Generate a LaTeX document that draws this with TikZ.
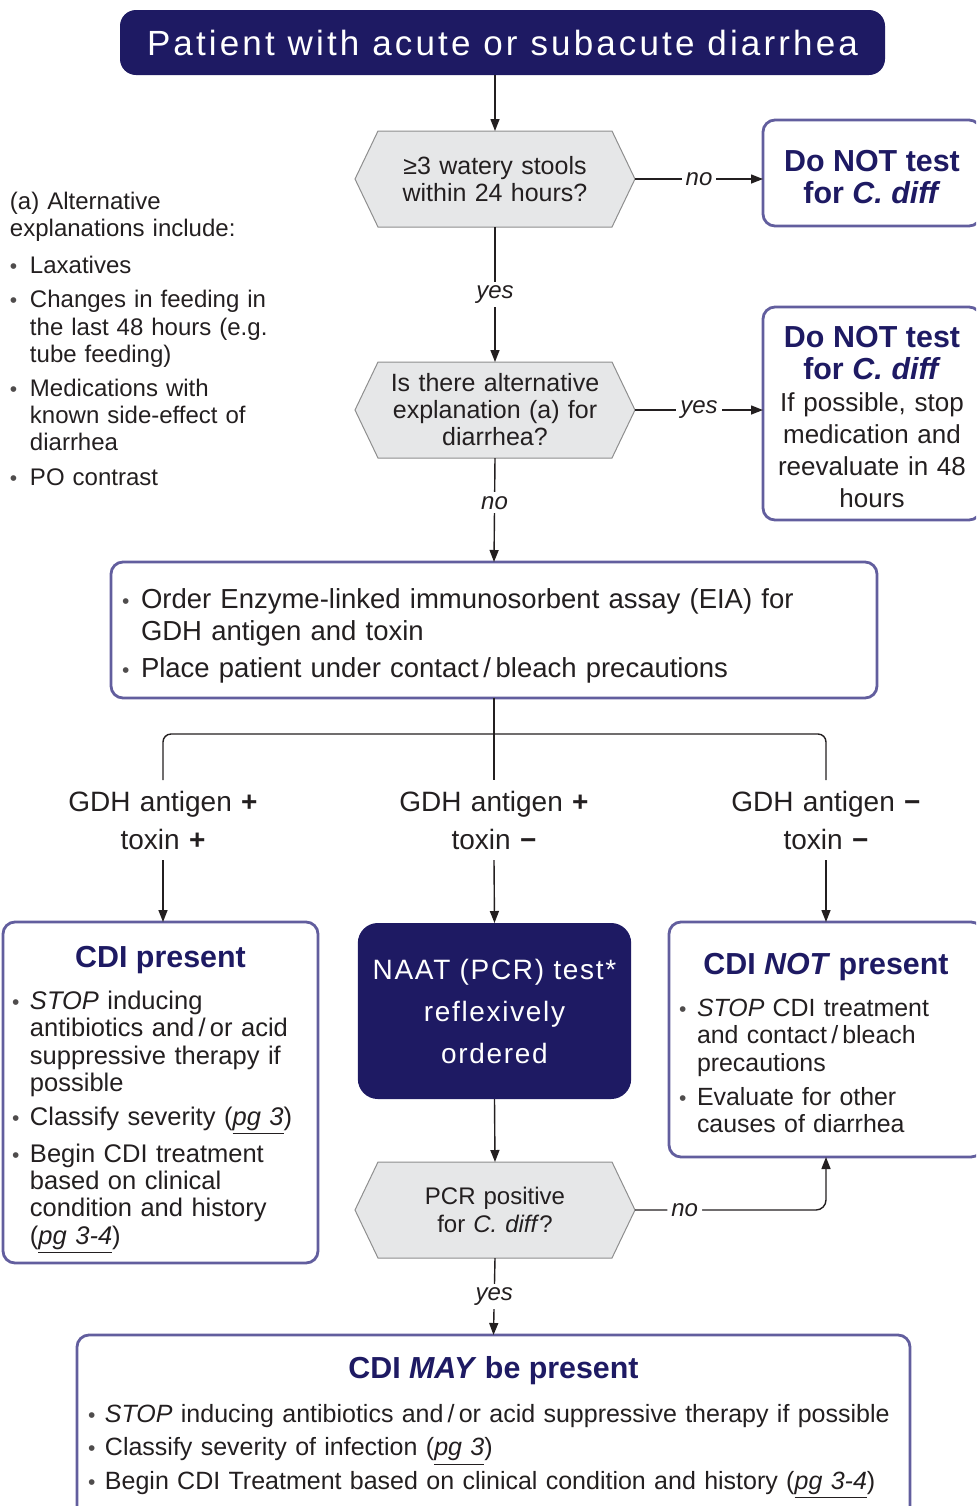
\documentclass[tikz,border=0pt]{standalone}
\usepackage{fontspec}
\setmainfont{Liberation Sans}
\newfontfamily\spacedfont[LetterSpace=9]{Liberation Sans}
\newfontfamily\naatfont[LetterSpace=6]{Liberation Sans}
\usetikzlibrary{arrows.meta,positioning,backgrounds}

\definecolor{navy}{HTML}{1E1A63}
\definecolor{boxedge}{HTML}{625E9E}
\definecolor{hexfill}{HTML}{E6E7E8}
\definecolor{hexedge}{HTML}{8E8E8E}
\definecolor{ink}{HTML}{231F20}

\setlength{\parindent}{0pt}
\newlength\bhang
\setlength\bhang{9pt}
\newcommand{\bitem}[1]{\par\noindent\hangindent=\bhang\hangafter=1%
  \makebox[\bhang][l]{\fontsize{10.5}{10.5}\selectfont\textcolor{ink!80}{\textbullet}}#1}
\newcommand{\pg}[1]{\underline{\textit{pg #1}}}
\newcommand{\headfont}{\fontsize{15.2}{16}\selectfont\bfseries\color{navy}}
% optional argument: height of a strut that lowers the text block
\newcommand{\boxtitle}[2][0pt]{{\centering\headfont\rule{0pt}{#1}#2\par}}
\newcommand{\hexoutline}[1]{%
  \begin{scope}[on background layer]
    \draw[hexedge, fill=hexfill, line width=0.5pt] (#1.west) -- ([xshift=11.5pt]#1.north west)
      -- ([xshift=-11.5pt]#1.north east) -- (#1.east) -- ([xshift=-11.5pt]#1.south east)
      -- ([xshift=11.5pt]#1.south west) -- cycle;
  \end{scope}}

\tikzset{
  every node/.style={outer sep=0pt},
  link/.style={draw=ink, line width=0.7pt},
  arrowlink/.style={link, -{Triangle[length=6pt,width=4.5pt]}},
  edgelabel/.style={fill=white, inner sep=2pt, text=ink, font=\fontsize{12}{12}\selectfont\itshape},
  question/.style={minimum width=140pt, minimum height=48pt, inner sep=0pt, text width=124pt,
    align=center, text=ink, font=\fontsize{12.5}{13.5}\selectfont},
  infobox/.style={draw=boxedge, line width=1.4pt, rounded corners=6pt, fill=white, text=ink,
    font=\fontsize{12.75}{13.7}\selectfont},
  titlebox/.style={fill=navy, text=white, rounded corners=8pt, minimum width=382.5pt,
    minimum height=32.5pt, font=\fontsize{17.5}{20}\selectfont\spacedfont},
  naatbox/.style={fill=navy, text=white, rounded corners=10pt, minimum width=136.5pt,
    minimum height=88pt, text width=130pt, align=center, font=\fontsize{14}{21}\selectfont\naatfont},
  gdh/.style={text width=120pt, align=center, minimum height=40pt, inner sep=0pt, text=ink,
    font=\fontsize{14}{19}\selectfont},
  note/.style={text width=150pt, align=left, inner sep=0pt, text=ink, font=\fontsize{12}{13.6}\selectfont,
    execute at begin node={\setlength{\parskip}{3.5pt}\setlength{\bhang}{10pt}}}
}

\begin{document}
\begin{tikzpicture}[x=0.5pt,y=-0.5pt]
\useasboundingbox (0,0) rectangle (976,1506);
\clip (0,0) rectangle (976,1506);

% first questions
\node[titlebox] (start) at (502.5,42.5) {Patient with acute or subacute diarrhea};
\node[question] (q1) at (495,179) {≥3 watery stools\\within 24 hours?};
\hexoutline{q1}
\node[infobox, text width=100pt, inner xsep=4.5pt, minimum height=53pt, align=center] (skip1) at (872,173)
  {\boxtitle[14.6pt]{Do NOT test\\for \textit{C. diff}}};
\node[question] (q2) at (495,410) {Is there alternative\\explanation (a) for\\diarrhea?};
\hexoutline{q2}
\node[infobox, text width=100pt, inner xsep=4.5pt, minimum height=106.5pt, align=center,
  font=\fontsize{13}{16}\selectfont] (skip2) at (872,413.5)
  {\boxtitle[14pt]{Do NOT test\\for \textit{C. diff}}If possible, stop\\medication and\\reevaluate in 48\\hours};
\node[note, anchor=north west] (alt) at (10,192)
  {(a) Alternative\newline explanations include:\par\vspace{1.5pt}%
   \bitem{Laxatives}%
   \bitem{Changes in feeding in\newline the last 48 hours (e.g.\newline tube feeding)}%
   \bitem{Medications with\newline known side-effect of\newline diarrhea}%
   \bitem{PO contrast}\par};

% EIA test
\node[infobox, text width=372pt, inner xsep=5.5pt, minimum height=68pt, align=left,
  font=\fontsize{13.75}{16}\selectfont,
  execute at begin node={\setlength{\parskip}{2.5pt}\setlength{\bhang}{9.5pt}}] (eia) at (494,630)
  {\vspace{-3pt}%
   \bitem{Order Enzyme-linked immunosorbent assay (EIA) for\newline GDH antigen and toxin}%
   \bitem{Place patient under contact\,/\,bleach precautions}\par};

\coordinate (split) at (494,734);
\node[gdh] (gpp) at (163,820) {GDH antigen \textbf{+}\\toxin \textbf{+}};
\node[gdh] (gpm) at (494,820) {GDH antigen \textbf{+}\\toxin \textbf{−}};
\node[gdh] (gmm) at (826,820) {GDH antigen \textbf{−}\\toxin \textbf{−}};

% results
\node[infobox, text width=148.5pt, inner xsep=4.5pt, minimum height=170.5pt, align=left,
  execute at begin node={\setlength{\parskip}{3.3pt}}] (cdi) at (160.5,1092.5)
  {\boxtitle[18pt]{CDI present}\vspace{4pt}%
   \bitem{\textit{STOP} inducing\newline antibiotics and\,/\,or acid\newline suppressive therapy if\newline possible}%
   \bitem{Classify severity (\pg{3})}%
   \bitem{Begin CDI treatment\newline based on clinical\newline condition and history\newline (\pg{3-4})}\par};
\node[naatbox] (naat) at (494.5,1011) {NAAT (PCR) test*\\reflexively\\ordered};
\node[infobox, text width=147pt, inner xsep=5pt, minimum height=117.5pt, align=left,
  font=\fontsize{12.45}{13.7}\selectfont,
  execute at begin node={\setlength{\parskip}{3.3pt}}] (cdinot) at (826,1039.5)
  {\boxtitle[14pt]{CDI \textit{NOT} present}\vspace{4pt}%
   \bitem{\textit{STOP} CDI treatment\newline and contact\,/\,bleach\newline precautions}%
   \bitem{Evaluate for other\newline causes of diarrhea}\par};
\node[question, font=\fontsize{12}{14}\selectfont] (q3) at (495,1210) {PCR positive\\for \textit{C. diff}?};
\hexoutline{q3}
\node[infobox, text width=405.5pt, inner xsep=5.5pt, minimum height=92.5pt, align=left,
  font=\fontsize{12.5}{14}\selectfont,
  execute at begin node={\setlength{\parskip}{2.75pt}\setlength{\bhang}{8.5pt}}] (maybe) at (493.5,1427.5)
  {\boxtitle{CDI \textit{MAY} be present}\vspace{5.25pt}%
   \bitem{\textit{STOP} inducing antibiotics and\,/\,or acid suppressive therapy if possible}%
   \bitem{Classify severity of infection (\pg{3})}%
   \bitem{Begin CDI Treatment based on clinical condition and history (\pg{3-4})}\par};

% connectors
\draw[arrowlink] (q1.north |- start.south) -- (q1.north);
\draw[arrowlink] (q1.east) -- node[edgelabel]{no} (q1.east -| skip1.west);
\draw[arrowlink] (q1.south) -- node[edgelabel]{yes} (q2.north);
\draw[arrowlink] (q2.east) -- node[edgelabel]{yes} (q2.east -| skip2.west);
\draw[arrowlink] (q2.south) -- node[edgelabel, pos=0.43]{no} (eia.north);
\draw[link] (eia.south) -- (gpm.north);
\draw[link, rounded corners=4pt] (gpp.north) |- (split) -| (gmm.north);
\draw[arrowlink] (gpp.south) -- (gpp.south |- cdi.north);
\draw[arrowlink] (gpm.south) -- (naat.north);
\draw[arrowlink] (gmm.south) -- (gmm.south |- cdinot.north);
\draw[arrowlink] (naat.south) -- (q3.north);
\draw[arrowlink, rounded corners=5pt] (q3.east) -| node[edgelabel, pos=0.13]{no} (cdinot.south);
\draw[arrowlink] (q3.south) -- node[edgelabel]{yes} (maybe.north);
\end{tikzpicture}
\end{document}
